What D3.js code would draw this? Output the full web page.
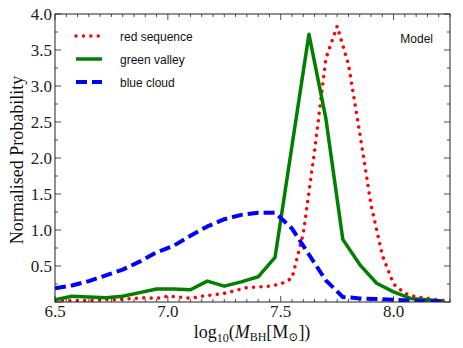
<!DOCTYPE html>
<html lang="en">
<head>
  <meta charset="UTF-8">
  <title>Black hole mass distributions</title>
  <script src="https://d3js.org/d3.v7.min.js"></script>
  <style>
    body {
      margin: 0;
      background-color: #ffffff;
    }
    svg {
      display: block;
    }
    .tick-label {
      font-family: 'Liberation Serif', 'DejaVu Serif', serif;
      font-size: 17px;
      fill: #222;
    }
    .axis-title {
      font-family: 'Liberation Serif', 'DejaVu Serif', serif;
      font-size: 18px;
      fill: #111;
    }
    .legend-text {
      font-family: 'Liberation Sans', Arial, sans-serif;
      font-size: 12px;
      fill: #111;
    }
  </style>
</head>
<body>
  <svg id="chart" width="463" height="348"></svg>

  <script>
    // bin centres (log10 M_BH) for green valley + blue cloud
    const binMass = [6.5, 6.575, 6.65, 6.725, 6.8, 6.875, 6.95, 7.025, 7.1, 7.175, 7.25, 7.325,
                     7.4, 7.475, 7.55, 7.625, 7.7, 7.775, 7.85, 7.925, 8.0, 8.075, 8.15, 8.225];
    const greenValley = [0.03, 0.08, 0.07, 0.06, 0.08, 0.13, 0.18, 0.18, 0.17, 0.29, 0.22, 0.28,
                         0.35, 0.62, 2.17, 3.72, 2.55, 0.87, 0.52, 0.26, 0.14, 0.05, 0.03, 0.01];
    const blueCloud = [0.19, 0.23, 0.29, 0.37, 0.45, 0.56, 0.69, 0.78, 0.92, 1.05, 1.15, 1.21,
                       1.24, 1.24, 1.02, 0.66, 0.30, 0.07, 0.05, 0.04, 0.03, 0.02, 0.01, 0.01];

    // red sequence is on a finer grid
    const redMass = [6.5, 6.55, 6.6, 6.65, 6.7, 6.75, 6.8, 6.85, 6.9, 6.95, 7.0, 7.05, 7.1, 7.15,
                     7.2, 7.25, 7.3, 7.35, 7.4, 7.45, 7.5, 7.55, 7.6, 7.65, 7.7, 7.75, 7.8, 7.85,
                     7.9, 7.95, 8.0, 8.05, 8.1, 8.15, 8.2, 8.25];
    const redSequence = [0.02, 0.02, 0.02, 0.02, 0.03, 0.03, 0.04, 0.05, 0.06, 0.05, 0.08, 0.07, 0.05, 0.08,
                         0.10, 0.12, 0.16, 0.20, 0.21, 0.22, 0.25, 0.33, 0.95, 2.10, 3.38, 3.83, 3.30, 2.35,
                         1.35, 0.65, 0.25, 0.12, 0.07, 0.05, 0.03, 0.01];

    const xTicks = [6.5, 7.0, 7.5, 8.0];
    const yTicks = [0.5, 1.0, 1.5, 2.0, 2.5, 3.0, 3.5, 4.0];

    const legendNames = ["red sequence", "green valley", "blue cloud"];

    const svg = d3.select("#chart");
    const margin = { left: 55, top: 14, right: 13, bottom: 46 };
    const width = 463 - margin.left - margin.right,
          height = 348 - margin.top - margin.bottom;

    const x = d3.scaleLinear().domain([6.5, 8.25]).range([0, width]);
    const y = d3.scaleLinear().domain([0, 4]).range([height, 0]);

    const g = svg.append("g").attr("transform", `translate(${margin.left},${margin.top})`);

    g.append("clipPath").attr("id", "clip")
      .append("rect").attr("width", width).attr("height", height);

    const line = d3.line().x(d => x(d[0])).y(d => y(d[1]));

    const series = [
      { xs: redMass, ys: redSequence, color: "#ff0000", w: 3.5, dash: "0.01 7.4", cap: "round" },
      { xs: binMass, ys: greenValley, color: "#008000", w: 3.5, dash: null, cap: "butt" },
      { xs: binMass, ys: blueCloud, color: "#0000ff", w: 4, dash: "11 5", cap: "butt" }
    ];

    const plot = g.append("g").attr("clip-path", "url(#clip)");
    series.forEach(s => {
      plot.append("path")
        .datum(s.xs.map((v, i) => [v, s.ys[i]]))
        .attr("fill", "none")
        .attr("stroke", s.color)
        .attr("stroke-width", s.w)
        .attr("stroke-linecap", s.cap)
        .attr("stroke-linejoin", "round")
        .attr("stroke-dasharray", s.dash)
        .attr("d", line);
    });

    // inward ticks on all four sides
    const xMinor = d3.range(6.5, 8.2501, 0.05);
    const yMinor = d3.range(0, 4.0001, 0.25);

    function ticks(axis, major, minor) {
      const ag = g.append("g").attr("stroke", "#222").attr("stroke-width", 0.8);
      if (axis === "x") {
        minor.forEach(v => {
          const len = major.some(m => Math.abs(m - v) < 1e-6) ? 6 : 3;
          ag.append("line").attr("x1", x(v)).attr("x2", x(v)).attr("y1", height).attr("y2", height - len);
          ag.append("line").attr("x1", x(v)).attr("x2", x(v)).attr("y1", 0).attr("y2", len);
        });
      } else {
        minor.forEach(v => {
          const len = major.some(m => Math.abs(m - v) < 1e-6) ? 6 : 3;
          ag.append("line").attr("y1", y(v)).attr("y2", y(v)).attr("x1", 0).attr("x2", len);
          ag.append("line").attr("y1", y(v)).attr("y2", y(v)).attr("x1", width).attr("x2", width - len);
        });
      }
    }
    ticks("x", xTicks, xMinor);
    ticks("y", yTicks.concat([0]), yMinor);

    g.append("rect")
      .attr("width", width).attr("height", height)
      .attr("fill", "none").attr("stroke", "#222").attr("stroke-width", 1);

    g.selectAll(".xlab").data(xTicks).enter().append("text")
      .attr("class", "tick-label")
      .attr("x", d => x(d)).attr("y", height + 15)
      .attr("text-anchor", "middle")
      .text(d => d.toFixed(1));

    g.selectAll(".ylab").data(yTicks).enter().append("text")
      .attr("class", "tick-label")
      .attr("x", -3).attr("y", d => y(d) + 5.5)
      .attr("text-anchor", "end")
      .text(d => d.toFixed(1));

    // axis titles
    svg.append("text")
      .attr("class", "axis-title")
      .attr("transform", "translate(23,160) rotate(-90)")
      .attr("text-anchor", "middle")
      .text("Normalised Probability");

    const xt = svg.append("text")
      .attr("class", "axis-title")
      .attr("x", 252).attr("y", 338)
      .attr("text-anchor", "middle")
      .style("font-size", "18px");
    xt.append("tspan").text("log");
    xt.append("tspan").attr("font-size", "12px").attr("dy", 4).text("10");
    xt.append("tspan").attr("dy", -4).text("(");
    xt.append("tspan").attr("font-style", "italic").text("M");
    xt.append("tspan").attr("font-size", "12px").attr("dy", 3).text("BH");
    xt.append("tspan").attr("dy", -3).text("[M");
    xt.append("tspan").attr("font-size", "12px").attr("dy", 3).text("⊙");
    xt.append("tspan").attr("dy", -3).text("])");

    // legend
    const legend = svg.append("g");
    series.forEach((s, i) => {
      const ly = 36 + i * 23;
      legend.append("line")
        .attr("x1", 76).attr("x2", 102).attr("y1", ly).attr("y2", ly)
        .attr("stroke", s.color)
        .attr("stroke-width", s.w)
        .attr("stroke-linecap", s.cap)
        .attr("stroke-dasharray", s.dash);
      legend.append("text")
        .attr("class", "legend-text")
        .attr("x", 120).attr("y", ly + 5)
        .text(legendNames[i]);
    });

    svg.append("text")
      .attr("class", "legend-text")
      .attr("x", 433).attr("y", 43)
      .attr("text-anchor", "end")
      .text("Model");
  </script>
</body>
</html>
